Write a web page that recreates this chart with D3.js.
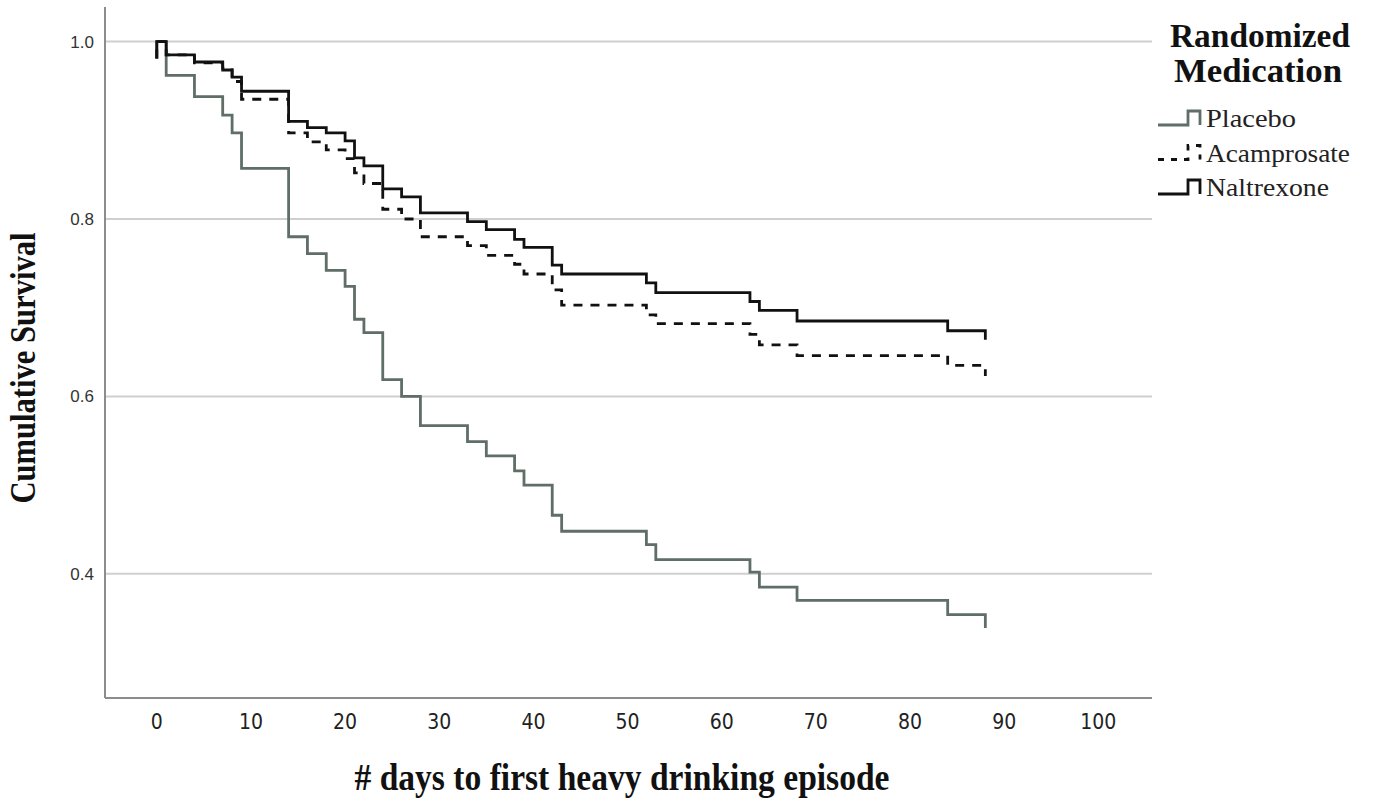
<!DOCTYPE html>
<html>
<head>
<meta charset="utf-8">
<script src="https://cdnjs.cloudflare.com/ajax/libs/d3/7.8.5/d3.min.js"></script>
<style>
  body { margin: 0; background: #fff; }
  .tick-y { font-family: 'Liberation Sans', Arial, sans-serif; font-size: 17px; fill: #333; }
  .tick-x { font-family: 'DejaVu Sans Condensed', 'DejaVu Sans', sans-serif; font-stretch: condensed; font-size: 21px; fill: #222; }
  .title { font-family: 'Liberation Serif', 'Times New Roman', serif; font-weight: bold; fill: #111; }
  .legend-text { font-family: 'Liberation Serif', 'Times New Roman', serif; font-size: 26px; fill: #222; }
</style>
</head>
<body>
<div class="km-chart"></div>
<script>
// event days shared by all three groups (first two entries draw the start mark at day 0)
var days = [0, 0, 1, 4, 7, 8, 9, 14, 16, 18, 20, 21, 22, 24, 26, 28, 33, 35, 38, 39, 42, 43, 52, 53, 63, 64, 68, 84, 88];

// cumulative survival
var placebo     = [0.981, 1.0, 0.962, 0.938, 0.917, 0.897, 0.857, 0.780, 0.761, 0.742, 0.724, 0.687, 0.672, 0.619, 0.600, 0.567, 0.549, 0.533, 0.516, 0.500, 0.466, 0.448, 0.433, 0.416, 0.402, 0.385, 0.370, 0.354, 0.339];
var acamprosate = [0.981, 1.0, 0.985, 0.976, 0.970, 0.955, 0.935, 0.897, 0.887, 0.878, 0.868, 0.852, 0.840, 0.811, 0.800, 0.780, 0.770, 0.759, 0.749, 0.738, 0.720, 0.703, 0.692, 0.682, 0.670, 0.658, 0.646, 0.635, 0.623];
var naltrexone  = [0.981, 1.0, 0.985, 0.977, 0.968, 0.960, 0.944, 0.910, 0.903, 0.897, 0.888, 0.869, 0.860, 0.834, 0.825, 0.807, 0.797, 0.788, 0.777, 0.768, 0.748, 0.738, 0.728, 0.717, 0.707, 0.697, 0.685, 0.674, 0.664];

var groupNames = ['Placebo', 'Acamprosate', 'Naltrexone'];
var xTicks = [0, 10, 20, 30, 40, 50, 60, 70, 80, 90, 100];
var yTicks = [0.4, 0.6, 0.8, 1.0];

var width = 1376, height = 802;
var plot = { left: 105, right: 1152, top: 7, bottom: 698 };

var x = d3.scaleLinear().domain([-5.5, 105.7]).range([plot.left, plot.right]);
var y = d3.scaleLinear().domain([0.26, 1.039]).range([plot.bottom, plot.top]);

var styles = {
  Placebo:     { color: '#5f6e67', dash: null },
  Acamprosate: { color: '#111', dash: '9,8' },
  Naltrexone:  { color: '#111', dash: null }
};

var svg = d3.select('.km-chart')
  .append('svg')
    .attr('width', width)
    .attr('height', height);

// horizontal grid lines
svg.append('g')
  .selectAll('line')
  .data(yTicks)
  .enter().append('line')
    .attr('x1', plot.left)
    .attr('x2', plot.right)
    .attr('y1', function(d) { return y(d); })
    .attr('y2', function(d) { return y(d); })
    .attr('stroke', '#cfcfcf')
    .attr('stroke-width', 2);

// axes: lines only, labels drawn by hand below
svg.append('line')
  .attr('x1', plot.left).attr('x2', plot.left)
  .attr('y1', plot.top).attr('y2', plot.bottom)
  .attr('stroke', '#8c8c8c').attr('stroke-width', 2);
svg.append('line')
  .attr('x1', plot.left).attr('x2', plot.right)
  .attr('y1', plot.bottom).attr('y2', plot.bottom)
  .attr('stroke', '#8c8c8c').attr('stroke-width', 2);

svg.append('g')
  .selectAll('text')
  .data(yTicks)
  .enter().append('text')
    .attr('class', 'tick-y')
    .attr('x', plot.left - 11)
    .attr('y', function(d) { return y(d); })
    .attr('dy', '0.35em')
    .attr('text-anchor', 'end')
    .text(d3.format('.1f'));

svg.append('g')
  .selectAll('text')
  .data(xTicks)
  .enter().append('text')
    .attr('class', 'tick-x')
    .attr('x', function(d) { return x(d); })
    .attr('y', plot.bottom + 24)
    .attr('dy', '0.35em')
    .attr('text-anchor', 'middle')
    .text(function(d) { return d; });

// axis titles
svg.append('text')
  .attr('class', 'title')
  .attr('transform', 'translate(35,' + 368 + ') rotate(-90)')
  .attr('text-anchor', 'middle')
  .attr('textLength', 271)
  .attr('lengthAdjust', 'spacingAndGlyphs')
  .style('font-size', '35px')
  .text('Cumulative Survival');

svg.append('text')
  .attr('class', 'title')
  .attr('x', 622)
  .attr('y', 790)
  .attr('text-anchor', 'middle')
  .attr('textLength', 535)
  .attr('lengthAdjust', 'spacingAndGlyphs')
  .style('font-size', '37px')
  .text('# days to first heavy drinking episode');

// survival step curves
var series = [
  { name: 'Placebo', values: placebo },
  { name: 'Acamprosate', values: acamprosate },
  { name: 'Naltrexone', values: naltrexone }
];

var stepLine = d3.line()
  .x(function(d) { return x(d[0]); })
  .y(function(d) { return y(d[1]); })
  .curve(d3.curveStepAfter);

svg.append('g')
  .selectAll('path')
  .data(series)
  .enter().append('path')
    .attr('fill', 'none')
    .attr('stroke', function(d) { return styles[d.name].color; })
    .attr('stroke-width', 2.8)
    .attr('stroke-dasharray', function(d) { return styles[d.name].dash; })
    .attr('d', function(d) {
      return stepLine(d.values.map(function(v, i) { return [days[i], v]; }));
    });

// legend
var legend = svg.append('g').attr('transform', 'translate(1158,0)');

legend.append('text')
  .attr('class', 'title')
  .attr('x', 102).attr('y', 47)
  .attr('text-anchor', 'middle')
  .attr('textLength', 180)
  .attr('lengthAdjust', 'spacingAndGlyphs')
  .style('font-size', '33px')
  .text('Randomized');
legend.append('text')
  .attr('class', 'title')
  .attr('x', 100).attr('y', 82)
  .attr('text-anchor', 'middle')
  .attr('textLength', 168)
  .attr('lengthAdjust', 'spacingAndGlyphs')
  .style('font-size', '33px')
  .text('Medication');

var symbolShape = [[0, 0], [30, -14], [42, 0]];
var symbolLine = d3.line()
  .x(function(d) { return d[0]; })
  .y(function(d) { return d[1]; })
  .curve(d3.curveStepAfter);

var item = legend.selectAll('.item')
  .data(groupNames)
  .enter().append('g')
    .attr('class', 'item')
    .attr('transform', function(d, i) { return 'translate(0,' + (125 + i * 34.5) + ')'; });

item.append('path')
  .attr('fill', 'none')
  .attr('stroke', function(d) { return styles[d].color; })
  .attr('stroke-width', 2.8)
  .attr('stroke-dasharray', function(d) { return styles[d].dash ? '6,7' : null; })
  .attr('d', symbolLine(symbolShape));

var textWidths = { Placebo: 90, Acamprosate: 144, Naltrexone: 123 };
item.append('text')
  .attr('class', 'legend-text')
  .attr('x', 48)
  .attr('y', 2)
  .attr('textLength', function(d) { return textWidths[d]; })
  .attr('lengthAdjust', 'spacingAndGlyphs')
  .text(function(d) { return d; });
</script>
</body>
</html>
